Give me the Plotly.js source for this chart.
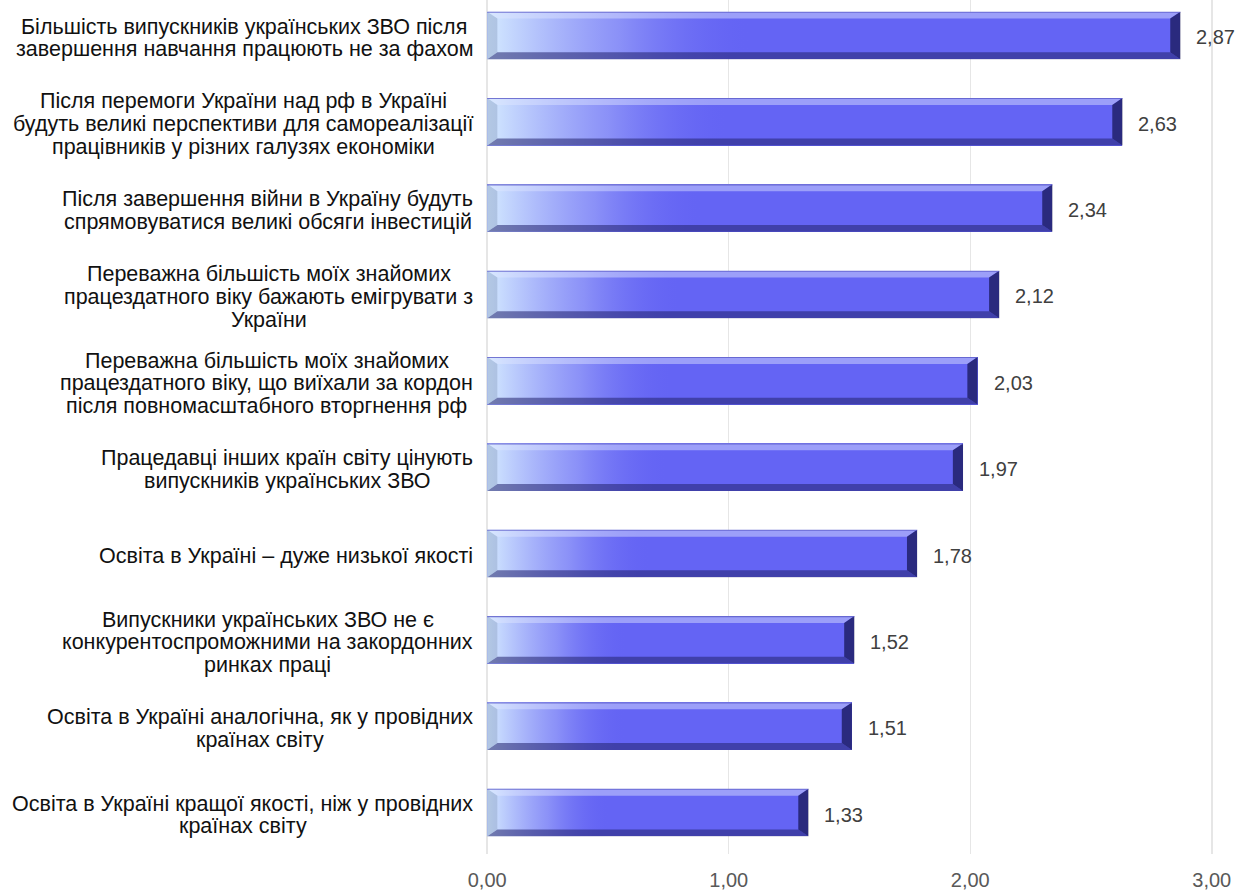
<!DOCTYPE html>
<html>
<head>
<meta charset="utf-8">
<script src="https://cdn.plot.ly/plotly-3.0.1.min.js"></script>
<style>html,body{margin:0;padding:0;background:#fff;}#chart{width:1246px;height:892px;}</style>
</head>
<body>
<div id="chart"></div>
<script>
const categories = [
  "Більшість випускників українських ЗВО після<br>завершення навчання працюють не за фахом",
  "Після перемоги України над рф в Україні<br>будуть великі перспективи для самореалізації<br>працівників у різних галузях економіки",
  "Після завершення війни в Україну будуть<br>спрямовуватися великі обсяги інвестицій",
  "Переважна більшість моїх знайомих<br>працездатного віку бажають емігрувати з<br>України",
  "Переважна більшість моїх знайомих<br>працездатного віку, що виїхали за кордон<br>після повномасштабного вторгнення рф",
  "Працедавці інших країн світу цінують<br>випускників українських ЗВО",
  "Освіта в Україні – дуже низької якості",
  "Випускники українських ЗВО не є<br>конкурентоспроможними на закордонних<br>ринках праці",
  "Освіта в Україні аналогічна, як у провідних<br>країнах світу",
  "Освіта в Україні кращої якості, ніж у провідних<br>країнах світу"
];
const values = [2.87, 2.63, 2.34, 2.12, 2.03, 1.97, 1.78, 1.52, 1.51, 1.33];
const xTicks = [0, 1, 2, 3];

const FONT = 'Liberation Sans, Arial, sans-serif';
const idx = values.map((v, i) => i);
const barW = 0.55;   // fraction of category band
const bevY = 0.08;   // bevel depth in band units
const bevX = 0.042;  // bevel depth in x units

const traces = [];
traces.push({
  type: 'bar', orientation: 'h', x: values, y: idx, width: barW,
  marker: {color: '#6464f4', line: {width: 0}},
  hoverinfo: 'x', showlegend: false
});
values.forEach((v, i) => {
  const yt = i - barW / 2, yb = i + barW / 2;
  traces.push({
    type: 'scatter', mode: 'lines', x: [0, v, v, 0, 0], y: [yt, yt, yb, yb, yt],
    fill: 'toself', line: {width: 0}, hoverinfo: 'skip', showlegend: false,
    fillgradient: {type: 'horizontal', start: 0, stop: v * 0.38,
      colorscale: [[0, 'rgba(212,234,255,1)'], [0.5, 'rgba(165,175,250,0.6)'], [1, 'rgba(100,100,244,0)']]}
  });
});
function bevel(fn, color) {
  const xs = [], ys = [];
  values.forEach((v, i) => {
    const yt = i - barW / 2, yb = i + barW / 2;
    const pts = fn(v, yt, yb);
    pts.forEach(p => { xs.push(p[0]); ys.push(p[1]); });
    xs.push(pts[0][0]); ys.push(pts[0][1]);
    xs.push(null); ys.push(null);
  });
  traces.push({type: 'scatter', mode: 'lines', x: xs, y: ys, fill: 'toself',
    fillcolor: color, line: {width: 0}, hoverinfo: 'skip', showlegend: false, connectgaps: false});
}
bevel((v, yt, yb) => [[0, yt], [v, yt], [v - bevX, yt + bevY], [bevX, yt + bevY]], 'rgba(225,230,255,0.45)');
bevel((v, yt, yb) => [[bevX, yb - bevY], [v - bevX, yb - bevY], [v, yb], [0, yb]], 'rgba(35,35,110,0.55)');
bevel((v, yt, yb) => [[v - bevX, yt + bevY], [v, yt], [v, yb], [v - bevX, yb - bevY]], 'rgba(20,20,80,0.72)');
bevel((v, yt, yb) => [[0, yt], [bevX, yt + bevY], [bevX, yb - bevY], [0, yb]], 'rgba(140,160,195,0.45)');
bevel((v, yt, yb) => [[0, yt], [v, yt], [v, yt + 0.012], [0, yt + 0.012]], 'rgba(90,90,200,0.8)');

// measure text to centre each multi-line label block against a common right edge
const cvs = document.createElement('canvas').getContext('2d');
const LABEL_SIZE = 21.5, LINE_H = 22.8;
cvs.font = LABEL_SIZE + 'px "Liberation Sans", Arial, sans-serif';

const annotations = [];
categories.forEach((c, i) => {
  const lines = c.split('<br>');
  const maxW = Math.max(...lines.map(l => cvs.measureText(l).width));
  const n = lines.length;
  lines.forEach((l, k) => {
    annotations.push({
      xref: 'x', yref: 'y', x: 0, y: i, text: l, showarrow: false,
      xanchor: 'center', yanchor: 'middle', align: 'center', borderpad: 0,
      xshift: -14 - maxW / 2, yshift: -((k - (n - 1) / 2) * LINE_H) - 2.5,
      font: {family: FONT, size: LABEL_SIZE, color: '#111111'}
    });
  });
  annotations.push({
    xref: 'x', yref: 'y', x: values[i], y: i, text: values[i].toFixed(2).replace('.', ','),
    showarrow: false, xanchor: 'left', yanchor: 'middle', xshift: 14, yshift: -2,
    font: {family: FONT, size: 20, color: '#404040'}
  });
});

const layout = {
  width: 1246, height: 892,
  margin: {l: 486, r: 33, t: 0, b: 38},
  paper_bgcolor: '#ffffff', plot_bgcolor: '#ffffff',
  separators: ', ',
  showlegend: false,
  bargap: 0,
  xaxis: {
    range: [-0.005, 3.005], tickvals: xTicks, tickformat: '.2f',
    showgrid: true, gridcolor: '#e6e6e6', gridwidth: 1.5, zeroline: false, showline: false,
    ticks: '', ticklabelstandoff: 12,
    tickfont: {family: FONT, size: 20, color: '#595959'},
    fixedrange: true
  },
  yaxis: {
    range: [9.48, -0.41], showticklabels: false, showgrid: false, zeroline: false,
    showline: false, ticks: '', fixedrange: true
  },
  annotations: annotations
};

Plotly.newPlot('chart', traces, layout, {displayModeBar: false, staticPlot: true});
</script>
</body>
</html>
